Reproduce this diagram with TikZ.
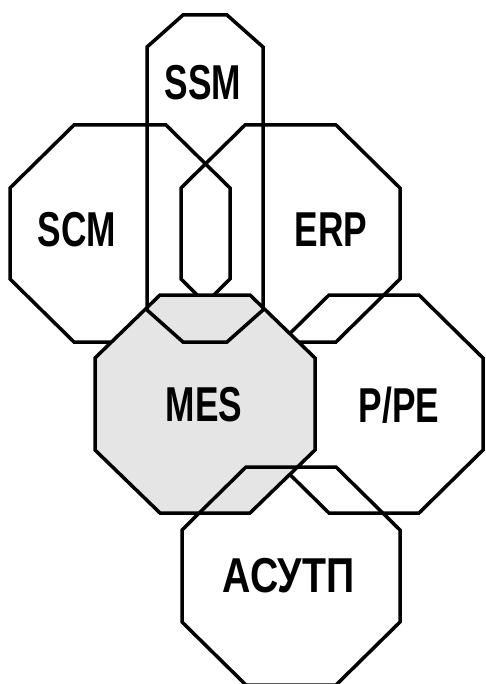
\documentclass[tikz,border=0pt]{standalone}
\usepackage{fontspec}
\newfontfamily\labelfont[FakeStretch=0.72]{Liberation Sans}
\newfontfamily\cyrlabelfont[FakeStretch=0.8]{Liberation Sans}
% octagon between (x1,y1) and (x2,y2) with corner cuts cx (horizontal) and cy (vertical)
\newcommand\octpath[6]{%
  ({#1+#5},{#2}) -- ({#3-#5},{#2}) -- ({#3},{#2+#6}) -- ({#3},{#4-#6}) --
  ({#3-#5},{#4}) -- ({#1+#5},{#4}) -- ({#1},{#4-#6}) -- ({#1},{#2+#6}) -- cycle}
\begin{document}
\begin{tikzpicture}[x=1pt,y=-1pt,
  outline/.style={draw=black, line width=3.5pt, line join=miter},
  mesfill/.style={fill=black!10},
  lbl/.style={font=\labelfont\bfseries\fontsize{49}{49}\selectfont, inner sep=0pt},
  cyrlbl/.style={font=\cyrlabelfont\bfseries\fontsize{49}{49}\selectfont, inner sep=0pt}]
\useasboundingbox (0,0) rectangle (485,684);
% systems lying under the MES block
\path[outline] \octpath{10}{125}{230}{342}{64}{63};
\path[outline] \octpath{181}{125}{400}{342}{64}{63};
\path[outline] \octpath{265}{295}{483}{513}{64}{63};
% MES block
\path[outline, mesfill] \octpath{95}{295}{315}{513}{65}{63};
% systems drawn over the MES block
\path[outline] \octpath{147}{15}{263}{342}{36}{32};
\path[outline] \octpath{182}{467}{400}{685}{64}{63};
% labels
\node[lbl] (ssm) at (203,82.5) {SSM};
\node[lbl] (scm) at (77,229.5) {SCM};
\node[lbl] (erp) at (331,229.5) {ERP};
\node[lbl] (mes) at (204,404.5) {MES};
\node[lbl] (ppe) at (399,405) {P/PE};
\node[cyrlbl] (asutp) at (288.5,575.5) {АСУТП};
\end{tikzpicture}
\end{document}
